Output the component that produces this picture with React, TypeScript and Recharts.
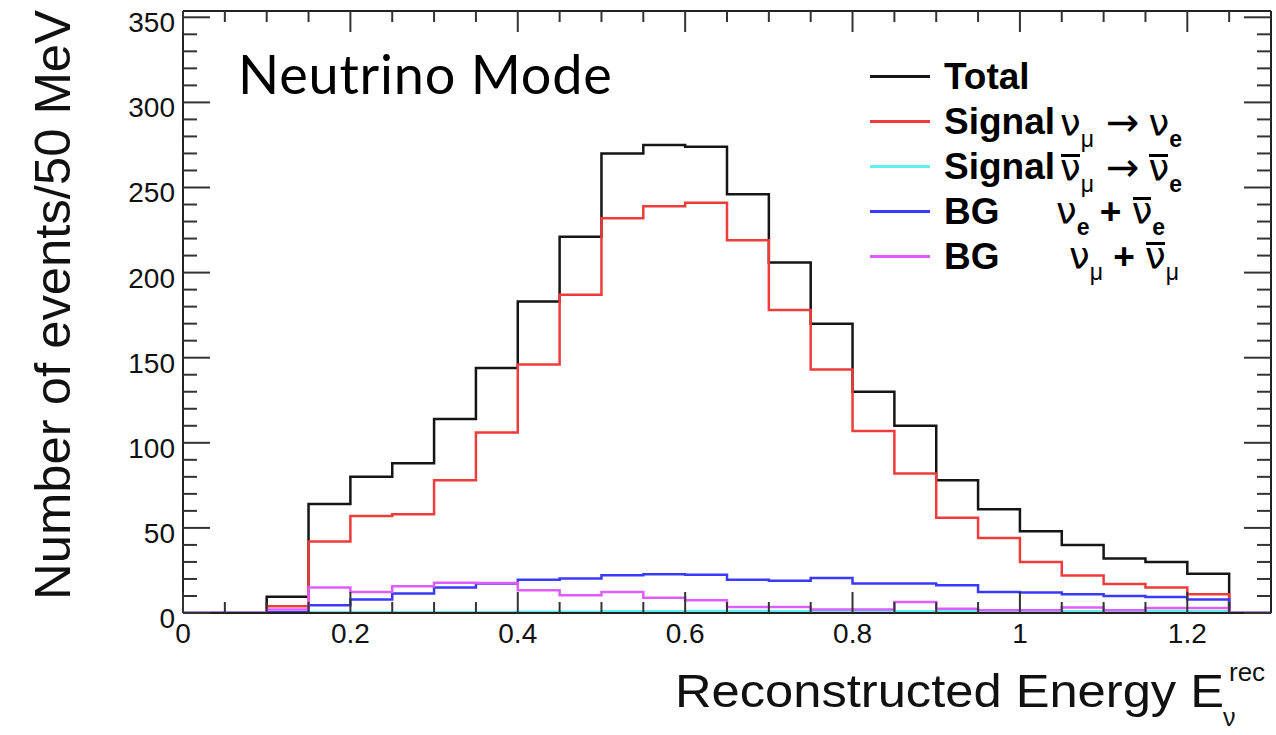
import { ComposedChart, Line, XAxis, YAxis, Legend } from 'recharts'

// bin low edges (GeV), last entry closes the final bin
const BIN_EDGES = [0, 0.05, 0.1, 0.15, 0.2, 0.25, 0.3, 0.35, 0.4, 0.45, 0.5, 0.55, 0.6, 0.65, 0.7, 0.75, 0.8, 0.85, 0.9, 0.95, 1.0, 1.05, 1.1, 1.15, 1.2, 1.25, 1.3]

const TOTAL = [0, 0, 9.5, 64, 80, 88, 114, 144, 183, 221, 270, 275, 274, 246, 206, 170, 130, 110, 78, 61, 48, 40, 32, 30, 23, 0]
const SIG_NU = [0, 0, 4, 42, 57, 58, 78, 106, 146, 187, 232, 239, 241, 219, 178, 143, 107, 82, 56, 44, 30, 22, 17, 15, 11, 0]
const SIG_NUBAR = [0, 0, 0, 0.5, 0.5, 0.5, 0.5, 0.5, 0.8, 0.8, 1, 1, 1.2, 1.2, 1, 1, 1, 1, 1, 1, 1.2, 1, 1, 1.2, 1, 0]
const BG_E = [0, 0, 0.5, 4.5, 8, 11.4, 15, 17.3, 19.6, 20.2, 22.2, 22.7, 22.5, 19.6, 19, 20.6, 17.3, 17.3, 16.3, 12.4, 12, 11, 10, 9.4, 8, 0]
const BG_MU = [0, 0, 2, 15, 12.4, 15.7, 17.8, 17.6, 13.3, 10.4, 12.4, 9, 7.5, 3.5, 3.5, 2, 2, 6.5, 2.5, 1.6, 1.6, 3.3, 1.6, 3, 3, 0]

const X_TICKS = [0, 0.05, 0.1, 0.15, 0.2, 0.25, 0.3, 0.35, 0.4, 0.45, 0.5, 0.55, 0.6, 0.65, 0.7, 0.75, 0.8, 0.85, 0.9, 0.95, 1.0, 1.05, 1.1, 1.15, 1.2, 1.25]
const X_LABELS: Record<string, string> = { '0.00': '0', '0.20': '0.2', '0.40': '0.4', '0.60': '0.6', '0.80': '0.8', '1.00': '1', '1.20': '1.2' }
const Y_TICKS = [0, 10, 20, 30, 40, 50, 60, 70, 80, 90, 100, 110, 120, 130, 140, 150, 160, 170, 180, 190, 200, 210, 220, 230, 240, 250, 260, 270, 280, 290, 300, 310, 320, 330, 340, 350]
const LEGEND_ORDER = ['total', 'sigNu', 'sigNubar', 'bgE', 'bgMu']

const pick = (arr: number[], i: number) => arr[Math.min(i, arr.length - 1)]

const data = BIN_EDGES.map((e, i) => ({
  e,
  total: pick(TOTAL, i),
  sigNu: pick(SIG_NU, i),
  sigNubar: pick(SIG_NUBAR, i),
  bgE: pick(BG_E, i),
  bgMu: pick(BG_MU, i),
}))

const FONT = '"Liberation Sans", Arial, Helvetica, sans-serif'
const TICK_COLOR = '#333'

const BottomTick = ({ x, y, payload }: any) => {
  const label = X_LABELS[Number(payload.value).toFixed(2)]
  const len = label !== undefined ? 21 : 11
  return (
    <g>
      <line x1={x} x2={x} y1={y} y2={y - len} stroke={TICK_COLOR} strokeWidth={2} />
      {label !== undefined && (
        <text x={x} y={y + 30} textAnchor="middle" fontSize={28} fontFamily={FONT} fill="#111">{label}</text>
      )}
    </g>
  )
}

const TopTick = ({ x, y, payload }: any) => {
  const len = X_LABELS[Number(payload.value).toFixed(2)] !== undefined ? 21 : 11
  return <line x1={x} x2={x} y1={y} y2={y + len} stroke={TICK_COLOR} strokeWidth={2} />
}

const LeftTick = ({ x, y, payload }: any) => {
  const major = payload.value % 50 === 0
  return (
    <g>
      <line x1={x} x2={x + (major ? 27 : 14)} y1={y} y2={y} stroke={TICK_COLOR} strokeWidth={2} />
      {major && (
        <text x={x - 8} y={y + 15} textAnchor="end" fontSize={28} fontFamily={FONT} fill="#111">{payload.value}</text>
      )}
    </g>
  )
}

const RightTick = ({ x, y, payload }: any) => {
  const major = payload.value % 50 === 0
  return <line x1={x} x2={x - (major ? 27 : 14)} y1={y} y2={y} stroke={TICK_COLOR} strokeWidth={2} />
}

const XTitle = ({ viewBox }: any) => {
  const right = viewBox.x + viewBox.width
  const base = viewBox.y + 94
  return (
    <g fontFamily={FONT} fill="#111">
      <text x={right - 596} y={base} fontSize={46} textLength={549} lengthAdjust="spacingAndGlyphs">Reconstructed Energy E</text>
      <text x={right - 48} y={base + 19} fontSize={25}>ν</text>
      <text x={right - 42} y={base - 26} fontSize={26}>rec</text>
    </g>
  )
}

const YTitle = ({ viewBox }: any) => {
  const cx = viewBox.x + 70
  const cy = viewBox.y + 294
  return (
    <text x={cx} y={cy} transform={`rotate(-90 ${cx} ${cy})`} textAnchor="middle" fontSize={50}
      fontFamily={FONT} fill="#111" textLength={590} lengthAdjust="spacingAndGlyphs">
      Number of events/50 MeV
    </text>
  )
}

const Nu = ({ sub, bar = false }: { sub: string; bar?: boolean }) => (
  <span style={{ fontWeight: 400, lineHeight: 1 }}>
    <span style={{ position: 'relative', display: 'inline-block', fontSize: 37, fontFamily: '"DejaVu Sans", sans-serif', lineHeight: 1 }}>
      ν
      {bar && <span style={{ position: 'absolute', left: 1, right: 1, top: 4, borderTop: '3px solid #000' }} />}
    </span>
    <span style={{ fontSize: 23, lineHeight: 1, fontWeight: sub === 'e' ? 700 : 400, position: 'relative', top: 11 }}>{sub}</span>
  </span>
)

const Arrow = () => (
  <span style={{ fontFamily: '"DejaVu Sans", sans-serif', fontWeight: 400, fontSize: 40, lineHeight: 1, margin: '0 9px 0 12px' }}>→</span>
)

const LABELS: Record<string, { head: string; width?: number; formula?: any }> = {
  total: { head: 'Total' },
  sigNu: { head: 'Signal', width: 116, formula: <><Nu sub="μ" /><Arrow /><Nu sub="e" /></> },
  sigNubar: { head: 'Signal', width: 116, formula: <><Nu sub="μ" bar /><Arrow /><Nu sub="e" bar /></> },
  bgE: { head: 'BG', width: 112, formula: <><Nu sub="e" /> <b>+</b> <Nu sub="e" bar /></> },
  bgMu: { head: 'BG', width: 125, formula: <><Nu sub="μ" /> <b>+</b> <Nu sub="μ" bar /></> },
}

const LegendBox = ({ payload }: any) => {
  const items = LEGEND_ORDER.map((k) => (payload || []).find((p: any) => p.dataKey === k)).filter(Boolean)
  return (
    <div style={{ fontFamily: FONT, fontWeight: 700, fontSize: 37, color: '#000', whiteSpace: 'nowrap' }}>
      {items.map((p: any) => {
        const l = LABELS[p.dataKey]
        return (
          <div key={p.dataKey} style={{ height: 45, display: 'flex', alignItems: 'center', lineHeight: 1 }}>
            <div style={{ width: 60, borderTop: `3px solid ${p.color}`, marginLeft: 4, marginRight: 14 }} />
            <span style={{ display: 'inline-block', width: l.width }}>{l.head}</span>
            {l.formula && <span>{l.formula}</span>}
          </div>
        )
      })}
    </div>
  )
}

export default function App() {
  return (
    <div style={{ position: 'absolute', left: 0, top: 0, width: 1276, height: 735, background: '#fff' }}>
      <ComposedChart width={1276} height={735} data={data} margin={{ top: 0, right: 0, bottom: 0, left: 0 }}>
        <XAxis dataKey="e" type="number" domain={[0, 1.3]} allowDataOverflow ticks={X_TICKS} interval={0}
          height={122} tickSize={0} tickMargin={0} tick={<BottomTick />}
          axisLine={{ stroke: '#222', strokeWidth: 2 }} label={<XTitle />} />
        <XAxis xAxisId="top" orientation="top" dataKey="e" type="number" domain={[0, 1.3]} allowDataOverflow
          ticks={X_TICKS} interval={0} height={11} tickSize={0} tickMargin={0} tick={<TopTick />}
          axisLine={{ stroke: '#222', strokeWidth: 2 }} />
        <YAxis type="number" domain={[0, 353.7]} allowDataOverflow ticks={Y_TICKS} interval={0} width={183}
          tickSize={0} tickMargin={0} tick={<LeftTick />} axisLine={{ stroke: '#222', strokeWidth: 2 }}
          label={<YTitle />} />
        <YAxis yAxisId="right" orientation="right" type="number" domain={[0, 353.7]} allowDataOverflow
          ticks={Y_TICKS} interval={0} width={5} tickSize={0} tickMargin={0} tick={<RightTick />}
          axisLine={{ stroke: '#222', strokeWidth: 2 }} />
        <Legend layout="vertical" align="center" verticalAlign="middle" content={<LegendBox />}
          wrapperStyle={{ left: 866, top: 54, width: 410 }} />
        <Line type="stepAfter" dataKey="total" name="Total" stroke="#151515" strokeWidth={2.5} dot={false} isAnimationActive={false} />
        <Line type="stepAfter" dataKey="sigNu" name="Signal nu_mu -> nu_e" stroke="#ee3b3b" strokeWidth={2.5} dot={false} isAnimationActive={false} />
        <Line type="stepAfter" dataKey="sigNubar" name="Signal nubar_mu -> nubar_e" stroke="#5ff0ee" strokeWidth={2.5} dot={false} isAnimationActive={false} />
        <Line type="stepAfter" dataKey="bgE" name="BG nu_e + nubar_e" stroke="#3a3aff" strokeWidth={2.5} dot={false} isAnimationActive={false} />
        <Line type="stepAfter" dataKey="bgMu" name="BG nu_mu + nubar_mu" stroke="#df5cff" strokeWidth={2.5} dot={false} isAnimationActive={false} />
      </ComposedChart>
      <div style={{ position: 'absolute', left: 238, top: 47, fontFamily: 'Lato, "Open Sans", sans-serif', fontSize: 54, lineHeight: '54px', letterSpacing: 0.8, color: '#000' }}>
        Neutrino Mode
      </div>
    </div>
  )
}
